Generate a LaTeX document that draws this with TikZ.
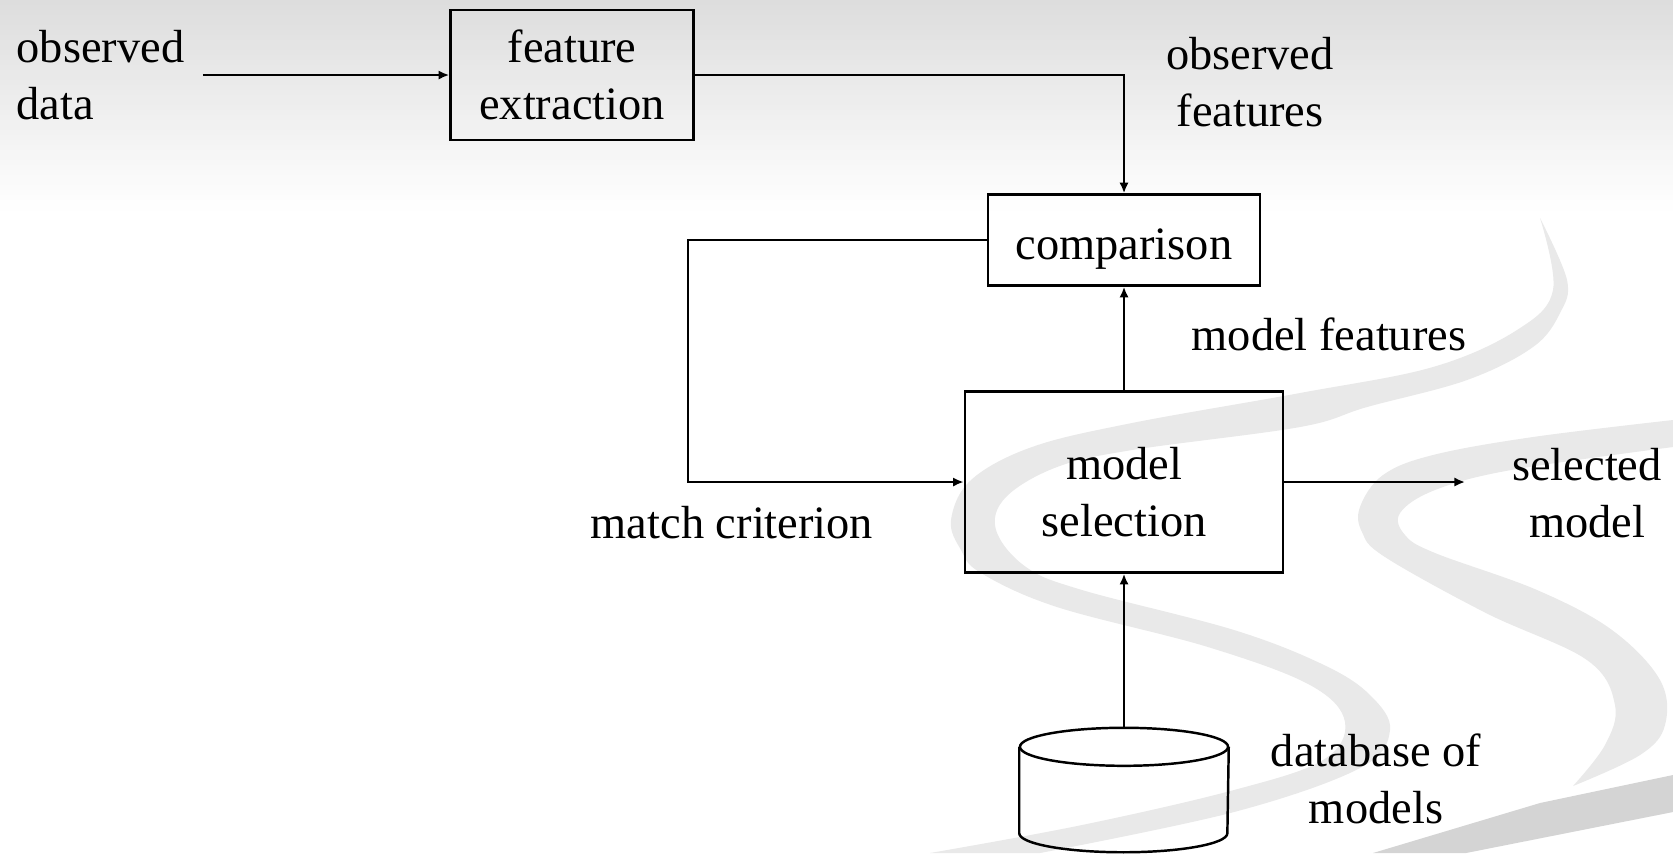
\documentclass[tikz,border=0pt]{standalone}
\usepackage{fontspec}
\setmainfont{Liberation Serif}
\usepackage{tikz}
\usetikzlibrary{arrows.meta, positioning, shapes.geometric}
\definecolor{topgray}{RGB}{221, 221, 221}
\definecolor{swooshgray}{RGB}{233, 233, 233}
\definecolor{wedgegray}{RGB}{212, 212, 212}

\tikzset{
  block/.style={draw, line width=0.7pt, align=center, inner sep=0pt},
  lbl/.style={align=center, inner sep=0pt},
  dbline/.style={line width=0.7pt},
  arr/.style={-{Latex[length=3pt, width=2.6pt]}, line width=0.6pt},
  swoosh/.style={fill=swooshgray, draw=none},
}

\begin{document}
\begin{tikzpicture}[x=0.01cm, y=-0.01cm, font=\fontsize{13.2}{16.2}\selectfont]
    \useasboundingbox (0,0) rectangle (1673,853);
    \fill[white] (0,0) rectangle (1673,853);
    \foreach \i [evaluate=\i as \pct using {int(100-\i*100/42)}] in {0,...,41}
      \fill[topgray!\pct!white] (0,\i*5) rectangle (1673,\i*5+6);

    % slide swooshes
    \fill[swoosh] plot[smooth, tension=0.6] coordinates {(1540,218) (1553,290) (1517,330) (1433,367)
        (1300,393) (1132,423) (1032,447) (971,480) (951,520) (961,550) (981,573) (1057,607)
        (1208,647) (1310,685) (1345,722) (1323,760) (1234,790) (1082,825) (930,853)}
      -- plot[smooth, tension=0.6] coordinates {(1040,853) (1234,812) (1360,768) (1390,730)
        (1370,695) (1324,665) (1234,630) (1082,590) (1026,567) (996,530) (1006,497) (1057,467)
        (1132,450) (1300,427) (1367,407) (1467,380) (1533,347) (1560,313) (1567,280) (1540,218)} -- cycle;
    \fill[swoosh] plot[smooth, tension=0.6] coordinates {(1673,420) (1533,437) (1433,455) (1383,475)
        (1360,507) (1362,532) (1385,557) (1486,613) (1587,660) (1615,705) (1605,745) (1573,786)}
      -- plot[smooth, tension=0.6] coordinates {(1573,786) (1640,755) (1665,725) (1660,680)
        (1612,630) (1537,590) (1435,553) (1405,535) (1400,513) (1435,490) (1511,470) (1673,447)} -- cycle;
    \fill[wedgegray] (1373,853) -- (1540,803) -- (1673,775) -- (1673,812) -- (1466,853) -- cycle;

    % blocks
    \node[block, minimum width=2.43cm, minimum height=1.30cm] (fex) at (572,75) {feature\\extraction};
    \node[block, minimum width=2.72cm, minimum height=0.91cm, text height=13.8pt] (cmp) at (1124,240) {comparison};
    \node[block, minimum width=3.18cm, minimum height=1.81cm, text height=30.8pt, text depth=0pt] (msel) at (1124,482) {model\\selection};
    \node[minimum width=2.08cm, minimum height=1.23cm, inner sep=0pt] (db) at (1124,790) {};
    \draw[dbline] ([yshift=-0.19cm]db.north) ellipse [x radius=1.04cm, y radius=0.19cm];
    \draw[dbline] ([yshift=-0.19cm]db.north west) -- ([yshift=0.19cm]db.south west)
      arc[start angle=180, end angle=360, x radius=1.04cm, y radius=0.19cm] -- ([yshift=-0.19cm]db.north east);

    % labels
    \node[lbl, align=left, anchor=west] (obsdata) at (16,75) {observed\\data};
    \node[lbl] (obsfeat) at (1250,82) {observed\\features};
    \node[lbl] (modfeat) at (1329,334) {model features};
    \node[lbl] (matchcrit) at (732,523) {match criterion};
    \node[lbl] (selmodel) at (1587,493) {selected\\model};
    \node[lbl] (dbtext) at (1376,779) {database of\\models};

    \coordinate (loopcorner) at (688,240);
    \coordinate (selend) at (1465,482);

    \draw[arr] ([xshift=0.18cm]obsdata.east) -- (fex.west);
    \draw[arr] (fex.east) -| (cmp.north);
    \draw[arr] (cmp.west) -- (loopcorner) |- (msel.west);
    \draw[arr] (msel) -- (cmp);
    \draw[arr] (msel.east) -- (selend);
    \draw[arr] (db) -- (msel);
\end{tikzpicture}
\end{document}
